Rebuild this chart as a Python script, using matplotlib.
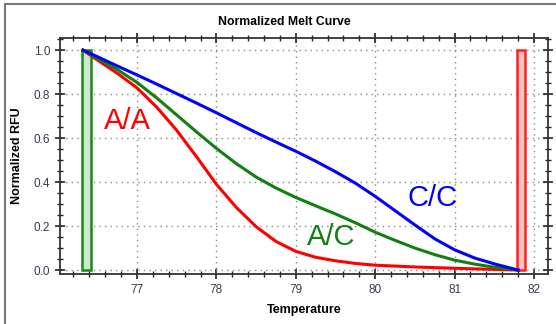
import matplotlib
matplotlib.use('Agg')
import matplotlib.pyplot as plt
from matplotlib.patches import Rectangle
from matplotlib.lines import Line2D
from matplotlib.ticker import MultipleLocator

plt.rcParams['font.family'] = ['Liberation Sans', 'DejaVu Sans']

# melt curves (temperature, normalized RFU)
temp_cc = [76.32, 76.5, 76.75, 77.0, 77.25, 77.5, 77.75, 78.0, 78.25, 78.5, 78.75,
           79.0, 79.25, 79.5, 79.75, 80.0, 80.25, 80.5, 80.75, 81.0, 81.25, 81.5, 81.8]
rfu_cc = [1.0, 0.97, 0.928, 0.887, 0.845, 0.802, 0.759, 0.715, 0.67, 0.625, 0.582,
          0.54, 0.495, 0.447, 0.395, 0.335, 0.27, 0.205, 0.142, 0.092, 0.055, 0.028, 0.0]

temp_ac = [76.32, 76.5, 76.75, 77.0, 77.25, 77.5, 77.75, 78.0, 78.25, 78.5, 78.75,
           79.0, 79.25, 79.5, 79.75, 80.0, 80.25, 80.5, 80.75, 81.0, 81.25, 81.5, 81.8]
rfu_ac = [1.0, 0.962, 0.912, 0.853, 0.782, 0.705, 0.628, 0.553, 0.484, 0.423, 0.373,
          0.33, 0.292, 0.255, 0.215, 0.172, 0.135, 0.10, 0.07, 0.045, 0.027, 0.013, 0.0]

temp_aa = [76.32, 76.5, 76.75, 77.0, 77.25, 77.5, 77.75, 78.0, 78.25, 78.5, 78.75,
           79.0, 79.25, 79.5, 79.75, 80.0, 80.5, 81.0, 81.5, 81.8]
rfu_aa = [1.0, 0.955, 0.895, 0.828, 0.74, 0.635, 0.515, 0.39, 0.285, 0.197, 0.13,
          0.085, 0.058, 0.042, 0.03, 0.022, 0.014, 0.008, 0.003, 0.0]

# start / end temperature markers
start_band = (76.31, 76.42)
end_band = (81.78, 81.89)

fig = plt.figure(figsize=(5.56, 3.24), dpi=100)
ax = fig.add_axes([0.1079, 0.1543, 0.8777, 0.7284])

ax.add_patch(Rectangle((start_band[0], 0), start_band[1] - start_band[0], 1.0,
                       facecolor='#cde8cd', edgecolor='#1a8a1a', lw=1.8, zorder=2))
ax.add_patch(Rectangle((end_band[0], 0), end_band[1] - end_band[0], 1.0,
                       facecolor='#f7c4c4', edgecolor='#ff2020', lw=1.8, zorder=2))

ax.plot(temp_aa, rfu_aa, color='#ff0000', lw=2.2, zorder=3)
ax.plot(temp_ac, rfu_ac, color='#118011', lw=2.2, zorder=3)
ax.plot(temp_cc, rfu_cc, color='#0000ff', lw=2.2, zorder=4)

ax.text(76.875, 0.677, 'A/A', color='#ff0000', fontsize=21, ha='center', va='center')
ax.text(79.44, 0.15, 'A/C', color='#118011', fontsize=21, ha='center', va='center')
ax.text(80.725, 0.327, 'C/C', color='#0000ff', fontsize=21, ha='center', va='center')

ax.set_xlim(76.03, 82.176)
ax.set_ylim(-0.018, 1.055)
ax.xaxis.set_major_locator(MultipleLocator(1))
ax.xaxis.set_minor_locator(MultipleLocator(0.2))
ax.yaxis.set_major_locator(MultipleLocator(0.2))
ax.yaxis.set_minor_locator(MultipleLocator(0.05))
ax.yaxis.set_major_formatter(matplotlib.ticker.FormatStrFormatter('%.1f'))

ax.grid(True, which='major', color='#888888', linestyle=(0, (1, 3)), lw=1.0)
ax.tick_params(which='both', direction='inout', top=True, right=True,
               labelsize=8.5, labelcolor='#3a3a50', color='#222222')
ax.tick_params(which='major', length=7, width=1.2)
ax.tick_params(which='minor', length=4, width=1.0)
for s in ax.spines.values():
    s.set_linewidth(1.3)
    s.set_color('#333333')

ax.set_xlabel('Temperature', fontsize=9, fontweight='bold', labelpad=6)
ax.set_ylabel('Normalized RFU', fontsize=9, fontweight='bold', labelpad=8)
fig.text(284 / 556, 1 - 22 / 324, 'Normalized Melt Curve', fontsize=8.8,
         fontweight='bold', ha='center', va='center')

# window frame lines at left and top
fig.add_artist(Line2D([5 / 556, 5 / 556], [0, 1 - 4 / 324], color='#777777',
                      lw=1.5, transform=fig.transFigure))
fig.add_artist(Line2D([5 / 556, 1], [1 - 4 / 324, 1 - 4 / 324], color='#777777',
                      lw=1.5, transform=fig.transFigure))

fig.savefig('out.png', dpi=100)
